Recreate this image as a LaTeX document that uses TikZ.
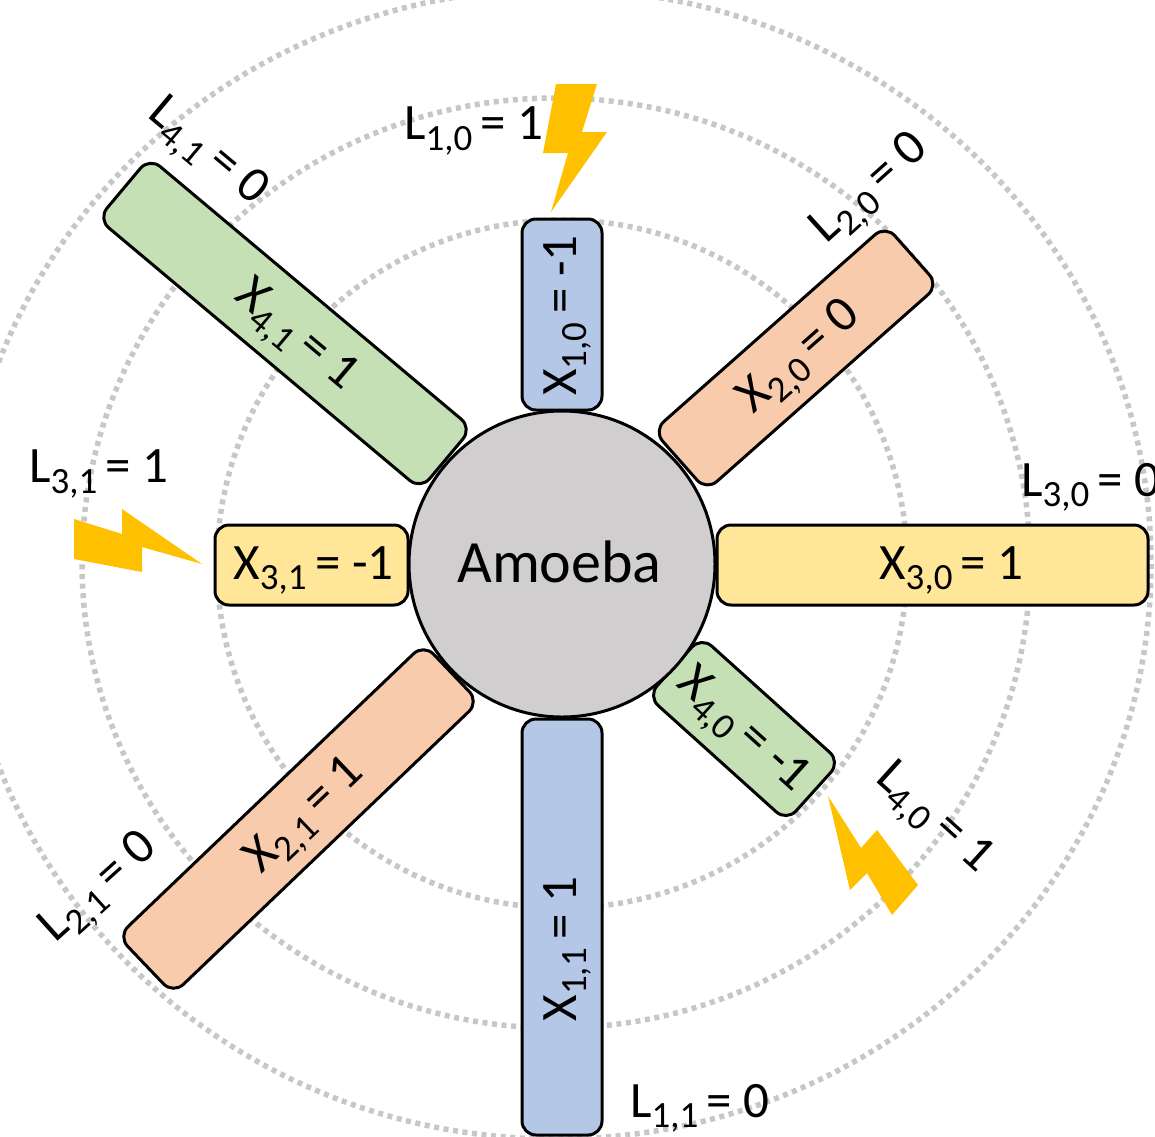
\documentclass[tikz,border=0pt]{standalone}
\usepackage{fontspec}
\setmainfont{Carlito}
\definecolor{barblue}{HTML}{B4C7E7}
\definecolor{baryellow}{HTML}{FFE699}
\definecolor{barorange}{HTML}{F8CBAD}
\definecolor{bargreen}{HTML}{C5E0B4}
\definecolor{amoebagray}{HTML}{D0CECE}
\definecolor{boltyellow}{HTML}{FFC000}
\newcommand{\lab}[3]{#1\raisebox{-0.2em}{\fontsize{37}{37}\selectfont #2}\,#3}
\tikzset{
  ring/.style={draw=black!22, line width=5.5pt, dash pattern=on 5pt off 4.6pt},
  bar/.style={draw=black, line width=3pt, rounded corners=14pt, minimum height=80pt, inner sep=0pt,
              font=\fontsize{51}{51}\selectfont},
  leg/.style={inner sep=0pt, font=\fontsize{51}{51}\selectfont},
  bolt/.style={fill=boltyellow, draw=none}
}
\begin{document}
\begin{tikzpicture}[x=1pt,y=-1pt]
  \useasboundingbox (0,0) rectangle (1155,1136);
  \clip (0,0) rectangle (1155,1136);
  \coordinate (centre) at (562,564);
  \draw[ring] (centre) ellipse [x radius=345, y radius=344];
  \draw[ring] (556,563) ellipse [x radius=474, y radius=465];
  \draw[ring] (556,564) ellipse [x radius=595, y radius=575];

  % arms, \o pushes the text along the arm
  \foreach \n/\x/\y/\l/\r/\c/\o/\t in {
    X10/562/314.5/191/90/barblue/-2/{\lab{X}{1,0}{= -1}},
    X11/562/927/416/90/barblue/-44/{\lab{X}{1,1}{= 1}},
    X20/796/358/310/41.5/barorange/6/{\lab{X}{2,0}{= 0}},
    X21/298.5/819/423/43.7/barorange/14/{\lab{X}{2,1}{= 1}},
    X30/932.5/565/431/0/baryellow/38/{\lab{X}{3,0}{= 1}},
    X31/311.5/565/193/0/baryellow/4/{\lab{X}{3,1}{= -1}},
    X40/744/729/187/-42/bargreen/0/{\lab{X}{4,0}{= -1}},
    X41/285/323.5/421/-40/bargreen/44/{\lab{X}{4,1}{= 1}}
  }{
    \node[bar, fill=\c, minimum width=\l pt, rotate=\r] (\n) at (\x,\y) {\hspace*{\o pt}\raisebox{-14pt}[0pt][0pt]{\t}};
  }
  \node[circle, draw=black, line width=3pt, fill=amoebagray, minimum size=306pt, inner sep=0pt,
        font=\fontsize{60}{60}\selectfont] (amoeba) at (centre) {\hspace*{-5pt}\raisebox{-18pt}[0pt][0pt]{Amoeba}};

  % readings
  \foreach \n/\x/\y/\r/\t in {
    L10/474/131/0/{\lab{L}{1,0}{= 1}},
    L11/700/1108/0/{\lab{L}{1,1}{= 0}},
    L20/872/191/42/{\lab{L}{2,0}{= 0}},
    L21/101/890/42/{\lab{L}{2,1}{= 0}},
    L30/1091/487/0/{\lab{L}{3,0}{= 0}},
    L31/99/474/0/{\lab{L}{3,1}{= 1}},
    L40/932/820/-42/{\lab{L}{4,0}{= 1}},
    L41/206/154/-40/{\lab{L}{4,1}{= 0}}
  }{
    \node[leg, rotate=\r] (\n) at (\x,\y) {\t};
  }

  % bolts
  \fill[bolt] (556,84) -- (597,84) -- (582,132) -- (607,132) -- (551,212) -- (568,153) -- (543,153) -- cycle;
  \fill[bolt] (828,796) -- (861,848) -- (877,830) -- (918,885) -- (892,915) -- (867,873) -- (850,890) -- cycle;
  \fill[bolt] (202,564) -- (142,547) -- (142,572) -- (74,559) -- (74,519) -- (122,534) -- (122,509) -- cycle;
\end{tikzpicture}
\end{document}
